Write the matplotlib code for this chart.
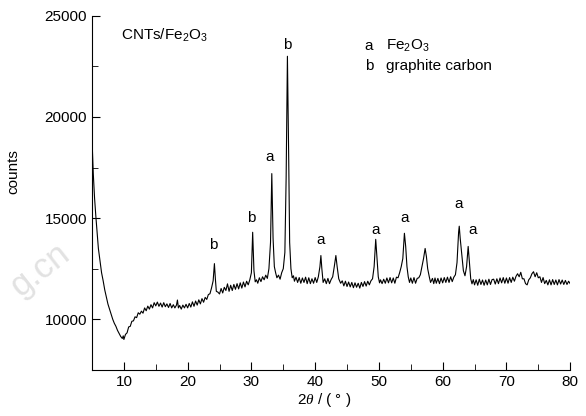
"""
XRD pattern of CNTs/Fe2O3 (counts vs 2theta)
"""

import numpy as np
import matplotlib
matplotlib.use("Agg")
import matplotlib.pyplot as plt
from matplotlib.ticker import MultipleLocator

plt.rcParams['font.family'] = ['Liberation Sans', 'DejaVu Sans']
plt.rcParams['mathtext.fontset'] = 'custom'
plt.rcParams['mathtext.it'] = 'Liberation Serif:italic'
plt.rcParams['mathtext.rm'] = 'Liberation Sans'

# 2theta (deg) and counts
two_theta = [
	5.0, 5.2, 5.4, 5.6, 5.8, 6.0, 6.25, 6.5, 6.75, 7.0, 7.25, 7.5, 7.75, 8.0, 8.25, 8.5, 8.75,
	9.0, 9.25, 9.5, 9.75, 9.9, 10.0, 10.25, 10.5, 10.75, 11.0, 11.25, 11.5, 11.75, 12.0, 12.25,
	12.5, 12.75, 13.0, 13.25, 13.5, 13.75, 14.0, 14.25, 14.5, 14.75, 15.0, 15.25, 15.5, 15.75,
	16.0, 16.25, 16.5, 16.75, 17.0, 17.25, 17.5, 17.75, 18.0, 18.25, 18.4, 18.55, 18.75, 19.0,
	19.25, 19.5, 19.75, 20.0, 20.25, 20.5, 20.75, 21.0, 21.25, 21.5, 21.75, 22.0, 22.25, 22.5,
	22.75, 23.0, 23.25, 23.5, 23.75, 24.0, 24.2, 24.35, 24.5, 24.75, 25.0, 25.25, 25.5, 25.75,
	26.0, 26.25, 26.5, 26.75, 27.0, 27.25, 27.5, 27.75, 28.0, 28.25, 28.5, 28.75, 29.0, 29.25,
	29.5, 29.75, 30.0, 30.2, 30.4, 30.6, 30.8, 31.0, 31.25, 31.5, 31.75, 32.0, 32.25, 32.5,
	32.75, 33.0, 33.2, 33.4, 33.6, 33.8, 34.0, 34.25, 34.5, 34.75, 35.0, 35.25, 35.45, 35.65,
	35.85, 36.0, 36.2, 36.4, 36.6, 36.75, 37.0, 37.25, 37.5, 37.75, 38.0, 38.25, 38.5, 38.75,
	39.0, 39.25, 39.5, 39.75, 40.0, 40.25, 40.5, 40.75, 40.9, 41.05, 41.25, 41.5, 41.75, 42.0,
	42.25, 42.5, 42.75, 43.0, 43.25, 43.45, 43.7, 44.0, 44.25, 44.5, 44.75, 45.0, 45.25, 45.5,
	45.75, 46.0, 46.25, 46.5, 46.75, 47.0, 47.25, 47.5, 47.75, 48.0, 48.25, 48.5, 48.75, 49.0,
	49.25, 49.5, 49.7, 49.9, 50.1, 50.25, 50.5, 50.75, 51.0, 51.25, 51.5, 51.75, 52.0, 52.25,
	52.5, 52.75, 53.0, 53.25, 53.5, 53.75, 54.0, 54.2, 54.4, 54.6, 54.8, 55.0, 55.25, 55.5,
	55.75, 56.0, 56.25, 56.5, 56.75, 57.0, 57.25, 57.45, 57.65, 57.9, 58.1, 58.4, 58.6, 58.8,
	59.0, 59.25, 59.5, 59.75, 60.0, 60.25, 60.5, 60.75, 61.0, 61.25, 61.5, 61.75, 62.0, 62.25,
	62.5, 62.6, 62.75, 63.0, 63.25, 63.5, 63.75, 64.0, 64.2, 64.4, 64.6, 64.8, 65.0, 65.25,
	65.5, 65.75, 66.0, 66.25, 66.5, 66.75, 67.0, 67.25, 67.5, 67.75, 68.0, 68.25, 68.5, 68.75,
	69.0, 69.25, 69.5, 69.75, 70.0, 70.25, 70.5, 70.75, 71.0, 71.25, 71.5, 71.75, 72.0, 72.25,
	72.5, 72.75, 73.0, 73.25, 73.5, 73.75, 74.0, 74.25, 74.5, 74.75, 75.0, 75.25, 75.5, 75.75,
	76.0, 76.25, 76.5, 76.75, 77.0, 77.25, 77.5, 77.75, 78.0, 78.25, 78.5, 78.75, 79.0, 79.25,
	79.5, 79.75, 80.0,
]

counts = [
	18900, 17200, 16000, 15100, 14300, 13500, 12900, 12300, 11900, 11450, 11100, 10750, 10500,
	10250, 10000, 9800, 9650, 9450, 9300, 9150, 9050, 9180, 9000, 9250, 9330, 9620, 9650, 9900,
	9920, 10120, 10080, 10320, 10250, 10400, 10300, 10560, 10420, 10650, 10500, 10720, 10560,
	10820, 10660, 10850, 10640, 10800, 10600, 10820, 10620, 10760, 10580, 10780, 10560, 10720,
	10560, 10700, 10950, 10560, 10680, 10500, 10700, 10560, 10740, 10560, 10780, 10600, 10860,
	10640, 10900, 10700, 10960, 10760, 11020, 10840, 11080, 10980, 11220, 11260, 11550, 11900,
	12750, 12000, 11380, 11340, 11250, 11520, 11300, 11580, 11420, 11750, 11380, 11680, 11420,
	11720, 11480, 11760, 11500, 11800, 11540, 11840, 11600, 11880, 11700, 11950, 12300, 14300,
	12400, 11850, 11950, 11780, 12050, 11860, 12100, 11950, 12180, 12020, 12500, 13800, 17200,
	14000, 12600, 12300, 12050, 12180, 11980, 12300, 12500, 13300, 17000, 23000, 18000, 13800,
	12500, 12050, 12150, 11880, 12080, 11820, 12060, 11780, 12040, 11820, 12080, 11760, 12050,
	11760, 12000, 11780, 12060, 11820, 12100, 12600, 13150, 12500, 11820, 12000, 11760, 12020,
	11760, 11960, 12100, 12600, 13150, 12600, 12000, 11780, 11900, 11650, 11880, 11620, 11840,
	11600, 11820, 11560, 11800, 11580, 11780, 11540, 11820, 11620, 11860, 11640, 11880, 11700,
	11900, 12000, 12600, 13950, 13000, 12100, 11800, 11950, 11760, 11980, 11780, 12040, 11800,
	12060, 11800, 12040, 11780, 12080, 12050, 12300, 12600, 13000, 14250, 13600, 12600,
	12100, 11820, 12040, 11780, 12060, 11780, 12020, 12050, 12200, 12600, 13000, 13500, 13100,
	12500, 12100, 11820, 12020, 11760, 12040, 11780, 12020, 11760, 12040, 11800, 12060, 11820,
	12080, 11820, 12100, 11860, 12080, 12200, 12800, 14300, 14600, 14000, 13200, 12400, 12150,
	12600, 13600, 12800, 12000, 11750, 11960, 11700, 11950, 11680, 11980, 11720, 11940, 11680,
	11940, 11700, 11980, 11720, 11960, 11980, 11740, 12000, 11760, 12040, 11800, 12060, 11780,
	12040, 11780, 12060, 11820, 12080, 11880, 12120, 12250, 12100, 12320, 12000, 12000, 11760,
	11700, 11950, 12050, 12250, 12350, 12100, 12300, 12050, 12100, 11820, 12060, 11760, 11920,
	11700, 11950, 11700, 11960, 11720, 11940, 11700, 11960, 11740, 11940, 11720, 11920, 11720,
	11880, 11760,
]

# peak labels: (2theta, counts, phase letter)
peak_x = [24.0, 30.0, 32.9, 35.6, 40.9, 49.5, 54.1, 62.5, 64.7]
peak_y = [13660, 15000, 18020, 23560, 13910, 14400, 15000, 15690, 14400]
peak_lbl = ["b", "b", "a", "b", "a", "a", "a", "a", "a"]

fig = plt.figure(figsize=(5.86, 4.16), dpi=100)
ax = fig.add_axes([0.157, 0.111, 0.816, 0.851])

ax.plot(two_theta, counts, color="black", lw=0.8)

for x, y, s in zip(peak_x, peak_y, peak_lbl):
	ax.text(x, y, s, ha="center", va="center", fontsize=11)

ax.text(0.06, 0.945, r"CNTs/Fe$_2$O$_3$", transform=ax.transAxes, fontsize=11, va="center")
ax.text(0.57, 0.915, "a", transform=ax.transAxes, fontsize=11, va="center")
ax.text(0.615, 0.915, r"Fe$_2$O$_3$", transform=ax.transAxes, fontsize=11, va="center")
ax.text(0.57, 0.858, "b", transform=ax.transAxes, fontsize=11, va="center")
ax.text(0.615, 0.858, "graphite carbon", transform=ax.transAxes, fontsize=11, va="center")

# faint watermark
fig.text(0.035, 0.285, "g.cn", fontsize=25, color="#e2e2e2", rotation=38,
	rotation_mode="anchor", zorder=0)

ax.set_xlim(5, 80)
ax.set_ylim(7500, 25000)
ax.xaxis.set_major_locator(MultipleLocator(10))
ax.xaxis.set_minor_locator(MultipleLocator(5))
ax.yaxis.set_major_locator(MultipleLocator(5000))
ax.yaxis.set_minor_locator(MultipleLocator(2500))
ax.set_yticks([10000, 15000, 20000, 25000])
ax.tick_params(which="both", direction="in", labelsize=11)
ax.tick_params(which="major", length=6)
ax.tick_params(which="minor", length=4)
ax.spines["top"].set_visible(False)
ax.spines["right"].set_visible(False)

ax.set_xlabel(r"2$\theta$ / ( ° )", fontsize=11)
ax.xaxis.set_label_coords(0.485, -0.06)
ax.set_ylabel("counts", fontsize=11)
ax.yaxis.set_label_coords(-0.15, 0.56)

fig.savefig("out.png", dpi=100)
